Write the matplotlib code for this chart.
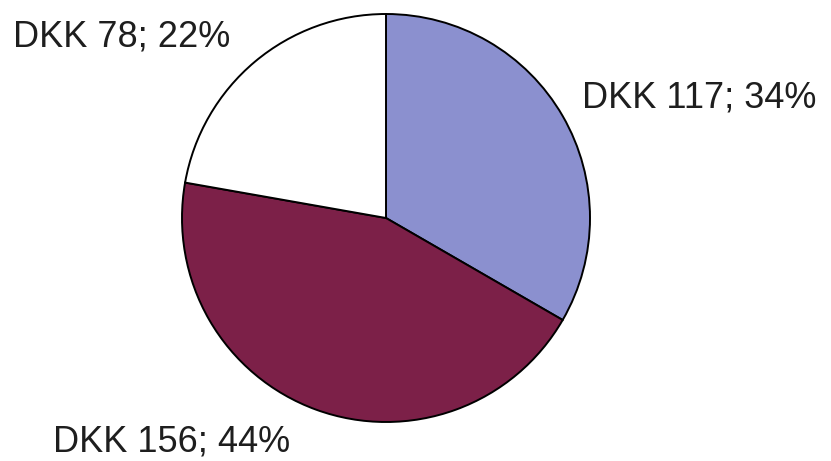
import matplotlib.pyplot as plt

values = [117, 156, 78]
labels = ['DKK 117; 34%', 'DKK 156; 44%', 'DKK 78; 22%']
colors = ['#8b90cf', '#7c2048', '#ffffff']

plt.rcParams['font.family'] = ['Liberation Sans', 'DejaVu Sans']

W, H = 831, 461
fig = plt.figure(figsize=(W / 100, H / 100), dpi=100)
ax = fig.add_axes([0, 0, 1, 1])

ax.pie(values, colors=colors, startangle=90, counterclock=False,
       center=(386, H - 218), radius=204, frame=True,
       wedgeprops=dict(edgecolor='black', linewidth=1.4))
ax.set_xlim(0, W)
ax.set_ylim(0, H)
ax.set_aspect('equal')
ax.axis('off')

# label positions (left edge, baseline in pixels from top)
pos = [(582, 107), (53, 451), (13, 47)]
for lab, (x, y) in zip(labels, pos):
    ax.text(x, H - y, lab, fontsize=26, color='#1e1e1e',
            ha='left', va='baseline')

fig.savefig('out.png', dpi=100)
